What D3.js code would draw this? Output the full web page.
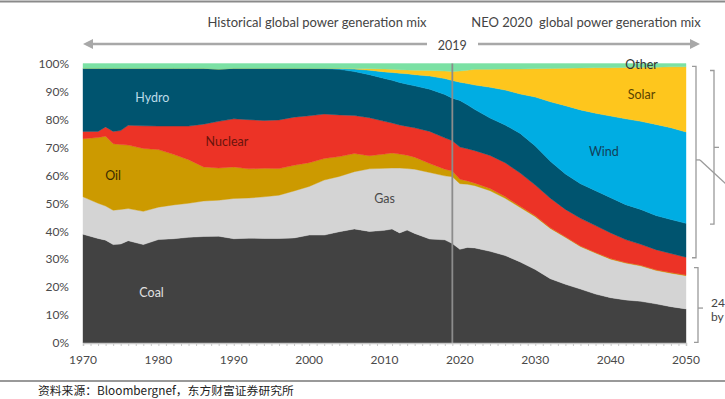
<!DOCTYPE html>
<html>
<head>
<meta charset="utf-8">
<script src="https://cdn.jsdelivr.net/npm/d3@7"></script>
<style>
  body { margin: 0; background: #fff; }
  svg { display: block; font-family: Lato, "Open Sans", sans-serif; }
</style>
</head>
<body>
<div id="chart"></div>
<script>
// years
var years = [1970, 1972, 1973, 1974, 1975, 1976, 1978, 1980, 1982, 1984, 1986, 1988,
  1990, 1992, 1994, 1996, 1998, 2000, 2002, 2004, 2006, 2008, 2010, 2011, 2012, 2013,
  2014, 2016, 2018, 2019, 2020, 2021, 2022, 2024, 2026, 2028, 2030, 2032, 2034, 2036,
  2038, 2040, 2042, 2044, 2046, 2048, 2050];

// shares of generation, %
var coal = [38.9, 37.4, 36.8, 35.2, 35.4, 36.6, 35.2, 37.0, 37.3, 37.8, 38.1, 38.2,
  37.3, 37.5, 37.4, 37.4, 37.6, 38.6, 38.6, 39.8, 40.8, 39.9, 40.3, 40.8, 39.4, 40.4,
  39.2, 37.2, 36.9, 35.6, 33.5, 34.2, 34.0, 32.8, 31.3, 29.0, 26.3, 23.0, 21.0, 19.3,
  17.5, 16.2, 15.4, 14.9, 14.0, 13.0, 12.2];
var gas = [13.4, 12.6, 12.2, 12.3, 12.4, 11.5, 11.9, 11.6, 12.1, 12.2, 12.7, 12.9,
  14.4, 14.4, 14.9, 15.5, 16.8, 17.4, 19.7, 19.8, 20.5, 22.4, 22.2, 21.8, 23.2, 22.0,
  23.0, 23.8, 22.9, 23.9, 23.5, 22.6, 22.3, 21.7, 20.5, 19.5, 18.9, 18.0, 16.8, 15.2,
  14.7, 13.8, 13.2, 12.7, 12.0, 12.0, 11.9];
var oil = [20.8, 23.5, 25.0, 23.8, 23.2, 22.7, 22.5, 20.6, 18.1, 15.6, 12.2, 11.5,
  11.3, 10.4, 10.2, 9.5, 9.2, 8.5, 7.7, 7.1, 6.5, 4.7, 5.1, 5.4, 5.0, 4.8,
  4.3, 3.2, 2.4, 2.0, 1.6, 1.2, 0.9, 0.8, 0.6, 0.4, 0.3, 0.2, 0.2, 0.2,
  0.2, 0.2, 0.2, 0.2, 0.2, 0.2, 0.2];
var nuclear = [2.6, 2.2, 3.3, 4.4, 5.0, 7.1, 8.1, 8.4, 10.1, 12.0, 15.3, 16.7,
  17.2, 17.6, 17.1, 17.4, 17.2, 16.8, 15.9, 14.9, 13.6, 13.6, 11.7, 10.7, 10.4, 10.3,
  10.5, 11.5, 11.2, 10.9, 11.5, 11.5, 11.6, 11.8, 12.1, 11.9, 11.0, 10.6, 9.8, 9.9,
  9.6, 9.2, 8.2, 7.5, 7.2, 6.8, 6.4];
var hydro = [22.6, 22.6, 21.0, 22.6, 22.3, 20.4, 20.6, 20.7, 20.7, 20.7, 20.0, 18.7,
  18.1, 18.4, 18.7, 18.5, 17.5, 16.9, 16.2, 16.3, 15.7, 15.4, 15.3, 15.3, 15.2, 15.1,
  15.0, 15.1, 15.5, 15.2, 16.7, 15.7, 14.7, 13.4, 13.5, 14.2, 14.0, 13.2, 12.7, 12.4,
  12.5, 12.6, 12.5, 12.5, 12.2, 12.2, 12.1];
var wind = [0, 0, 0, 0, 0, 0, 0, 0, 0, 0, 0, 0,
  0, 0, 0, 0, 0, 0.1, 0.2, 0.3, 0.9, 1.6, 2.4, 2.8, 3.3, 3.7,
  4.0, 4.7, 5.7, 6.3, 6.5, 7.6, 8.8, 11.0, 12.5, 14.1, 17.5, 21.3, 24.4, 26.4,
  27.7, 29.2, 30.7, 31.5, 32.6, 32.8, 32.7];
var solar = [0, 0, 0, 0, 0, 0, 0, 0, 0, 0, 0, 0,
  0, 0, 0, 0, 0, 0, 0, 0.1, 0.2, 0.5, 1.0, 1.1, 1.3, 1.4,
  1.6, 2.0, 2.7, 3.2, 4.0, 4.8, 5.6, 6.4, 7.5, 8.9, 10.1, 11.9, 13.4, 15.0,
  16.3, 17.3, 18.4, 19.4, 20.5, 21.8, 23.3];
var other = [1.7, 1.7, 1.7, 1.7, 1.7, 1.7, 1.7, 1.7, 1.7, 1.7, 1.7, 2.0,
  1.7, 1.7, 1.7, 1.7, 1.7, 1.7, 1.7, 1.7, 1.8, 1.9, 2.0, 2.1, 2.2, 2.3,
  2.4, 2.5, 2.7, 2.9, 2.7, 2.4, 2.1, 2.1, 2.0, 2.0, 1.9, 1.8, 1.7, 1.6,
  1.5, 1.5, 1.4, 1.3, 1.3, 1.2, 1.2];

var keys = ["Coal", "Gas", "Oil", "Nuclear", "Hydro", "Wind", "Solar", "Other"];
var series = [coal, gas, oil, nuclear, hydro, wind, solar, other];
var colors = ["#424242", "#d4d4d4", "#cc9a00", "#ec3326", "#00546f", "#00ade3", "#fec61d", "#7be1a4"];
var yTicks = [0, 10, 20, 30, 40, 50, 60, 70, 80, 90, 100];
var xTicks = [1970, 1980, 1990, 2000, 2010, 2020, 2030, 2040, 2050];

// area labels: [name, year, pct, colour]
var labels = [
  ["Hydro", 1979.2, 87.5, "#bcdbe8"],
  ["Oil", 1974, 59.5, "#3a2c00"],
  ["Nuclear", 1989.1, 71.7, "#6a140c"],
  ["Coal", 1979.1, 17.5, "#e0e0e0"],
  ["Gas", 2010, 51.3, "#4a4a4a"],
  ["Wind", 2039.1, 68.0, "#123f5a"],
  ["Solar", 2044.1, 88.5, "#5a4300"],
  ["Other", 2044.1, 99.2, "#333333"]
];

var W = 725, H = 399;
var svg = d3.select("#chart").append("svg").attr("width", W).attr("height", H);

var x = d3.scaleLinear().domain([1970, 2050]).range([83, 686]);
var y = d3.scaleLinear().domain([0, 100]).range([343, 63.5]);

// table for the stack
var table = years.map(function(yr, i) {
  var row = {year: yr};
  keys.forEach(function(k, j) { row[k] = series[j][i]; });
  return row;
});
var stacked = d3.stack().keys(keys)(table);

var area = d3.area()
  .x(function(d) { return x(d.data.year); })
  .y0(function(d) { return y(d[0]); })
  .y1(function(d) { return y(d[1]); });

svg.append("g").selectAll("path").data(stacked).enter().append("path")
  .attr("d", area)
  .attr("fill", function(d, i) { return colors[i]; })
  .attr("stroke", function(d, i) { return colors[i]; })
  .attr("stroke-width", 0.4);

// top and bottom rules
svg.append("line").attr("x1", 0).attr("x2", W).attr("y1", 1.5).attr("y2", 1.5)
  .attr("stroke", "#8a8a8a").attr("stroke-width", 2);
svg.append("line").attr("x1", 0).attr("x2", W).attr("y1", 381).attr("y2", 381)
  .attr("stroke", "#777").attr("stroke-width", 1.5);

// 2019 divider
svg.append("line").attr("x1", x(2019)).attr("x2", x(2019)).attr("y1", y(100)).attr("y2", y(0))
  .attr("stroke", "#8c8c8c").attr("stroke-width", 1.8);

// x axis: yearly minor ticks
var xAxis = svg.append("g").attr("transform", "translate(0," + y(0) + ")")
  .call(d3.axisBottom(x).tickValues(d3.range(1970, 2051)).tickSize(3).tickFormat(""));
xAxis.select(".domain").attr("stroke", "#c8c8c8").attr("stroke-width", 1.5);
xAxis.selectAll(".tick line").attr("stroke", "#c8c8c8");

svg.append("g").selectAll("text").data(xTicks).enter().append("text")
  .attr("x", function(d) { return x(d); })
  .attr("y", 364)
  .attr("text-anchor", "middle")
  .attr("font-size", 12)
  .attr("fill", "#4a4a4a")
  .text(function(d) { return d; });

// y labels
var yAxis = svg.append("g").attr("transform", "translate(70,0)")
  .call(d3.axisLeft(y).tickValues(yTicks).tickSize(0).tickFormat(function(d) { return d + "%"; }));
yAxis.select(".domain").remove();
yAxis.selectAll("text").attr("font-size", 12).attr("fill", "#4a4a4a")
  .attr("font-family", "Lato, sans-serif").attr("x", -1);

// area labels
svg.append("g").selectAll("text").data(labels).enter().append("text")
  .attr("x", function(d) { return x(d[1]); })
  .attr("y", function(d) { return y(d[2]); })
  .attr("text-anchor", "middle")
  .attr("dominant-baseline", "middle")
  .attr("font-size", 12.5)
  .attr("fill", function(d) { return d[3]; })
  .text(function(d) { return d[0]; });

// header
svg.append("text").attr("x", 317).attr("y", 27).attr("text-anchor", "middle")
  .attr("font-size", 13).attr("fill", "#444").text("Historical global power generation mix");
svg.append("text").attr("x", 586).attr("y", 27).attr("text-anchor", "middle")
  .attr("font-size", 13).attr("fill", "#444").attr("xml:space", "preserve")
  .text("NEO 2020  global power generation mix");

// 2019 arrow
var ay = 44;
var arrowCol = "#a8a8a8";
svg.append("line").attr("x1", x(1970) + 6).attr("x2", 427).attr("y1", ay).attr("y2", ay)
  .attr("stroke", arrowCol).attr("stroke-width", 2.5);
svg.append("line").attr("x1", 478).attr("x2", 694).attr("y1", ay).attr("y2", ay)
  .attr("stroke", arrowCol).attr("stroke-width", 2.5);
svg.append("path").attr("d", d3.line()([[x(1970), ay], [x(1970) + 10, ay - 5], [x(1970) + 10, ay + 5]]))
  .attr("fill", arrowCol);
svg.append("path").attr("d", d3.line()([[700, ay], [690, ay - 5], [690, ay + 5]]))
  .attr("fill", arrowCol);
svg.append("text").attr("x", x(2019)).attr("y", ay + 6).attr("text-anchor", "middle")
  .attr("font-size", 12.5).attr("fill", "#444").text("2019");

// right side brackets
var bk = svg.append("g").attr("fill", "none").attr("stroke", "#9a9a9a").attr("stroke-width", 1.3);
function bracket(bx, top, bot, mid, tickLen) {
  bk.append("path").attr("d", "M" + (bx - 4) + "," + top + "H" + bx + "V" + bot + "H" + (bx - 4));
  bk.append("path").attr("d", "M" + bx + "," + mid + "H" + (bx + tickLen));
}
bracket(696, y(99), y(30.5), y(65.5), 4);
bracket(714, y(97.5), y(42.5), y(70), 5);
bracket(698, y(27), y(0.2), y(12.5), 5);
bk.append("path").attr("d", "M700," + y(65.5) + "L727," + (y(65.5) + 25));

// side note, cut by the edge in the source too
svg.append("text").attr("x", 711).attr("y", 307).attr("font-size", 12).attr("fill", "#444").text("24");
svg.append("text").attr("x", 711).attr("y", 321).attr("font-size", 12).attr("fill", "#444").text("by");

// source note
svg.append("text").attr("x", 38).attr("y", 395)
  .attr("font-family", "'Noto Sans CJK SC', sans-serif")
  .attr("font-size", 11.8).attr("fill", "#222")
  .text("资料来源：Bloombergnef，东方财富证券研究所");
</script>
</body>
</html>
